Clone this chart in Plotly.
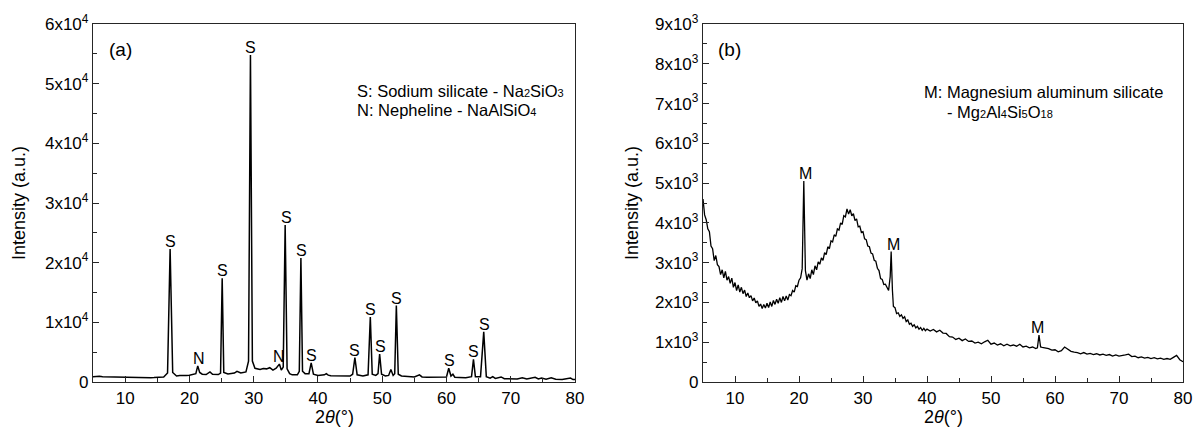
import plotly.graph_objects as go

# ---------------- (a) pattern: (2theta, intensity) ----------------
pattern_a = [
    (5.0, 900), (5.5, 980), (6.0, 950), (6.5, 900), (7.0, 880), (7.5, 940), (8.0, 920),
    (8.5, 870), (9.0, 860), (9.5, 840), (10.0, 820), (10.5, 830), (11.0, 800), (11.5, 780),
    (12.0, 760), (12.5, 770), (13.0, 740), (13.5, 720), (14.0, 720), (14.5, 740), (15.0, 760),
    (15.5, 800), (16.0, 850), (16.6, 1500), (17.0, 22300), (17.4, 1600), (18.0, 1000),
    (18.5, 1080), (19.0, 1050), (19.5, 1100), (20.0, 1150), (20.5, 1250), (21.0, 1400),
    (21.3, 2700), (21.6, 1600), (22.0, 1300), (22.6, 1250), (23.2, 1700), (23.6, 1300),
    (24.5, 1250), (24.85, 1500), (25.1, 17400), (25.35, 1600), (26.0, 1350), (27.0, 1500),
    (27.4, 1800), (28.0, 1500), (28.8, 1700), (29.2, 3500), (29.5, 54800), (29.8, 3500),
    (30.2, 2300), (31.0, 2100), (31.5, 2250), (32.0, 2200), (32.5, 2400), (33.0, 2000),
    (33.5, 2300), (34.0, 3000), (34.3, 2000), (34.6, 2500), (34.9, 26300), (35.2, 2200),
    (35.6, 1400), (36.0, 1200), (36.8, 1200), (37.1, 1800), (37.35, 20800), (37.6, 1800),
    (38.0, 1400), (38.6, 1400), (38.95, 3200), (39.3, 1300), (40.0, 1100), (41.0, 1200),
    (41.3, 1400), (41.6, 1150), (42.0, 1050), (43.0, 1050), (44.0, 1000), (45.0, 1000),
    (45.4, 1300), (45.75, 4100), (46.1, 1200), (47.0, 1000), (47.8, 1200), (48.15, 10900),
    (48.45, 1300), (49.0, 1100), (49.35, 1400), (49.6, 4700), (49.9, 1300), (50.5, 1000),
    (51.0, 1100), (51.35, 2100), (51.7, 1100), (51.95, 1400), (52.2, 12800), (52.5, 1300),
    (53.0, 1000), (54.0, 900), (55.0, 850), (55.8, 1200), (56.2, 850), (57.0, 800),
    (58.0, 800), (59.0, 750), (60.0, 850), (60.35, 2300), (60.7, 1000), (61.0, 1300),
    (61.3, 800), (62.0, 750), (63.0, 700), (63.9, 900), (64.2, 3800), (64.5, 900),
    (65.3, 900), (65.8, 8400), (66.2, 900), (66.8, 650), (67.2, 900), (67.6, 600),
    (68.5, 850), (69.0, 550), (70.0, 550), (71.0, 500), (71.8, 700), (72.5, 500),
    (73.8, 800), (74.3, 500), (74.8, 650), (75.5, 450), (76.3, 700), (77.0, 450),
    (78.0, 420), (79.3, 650), (79.7, 400), (80.0, 400),
]

# phase markers for (a): (2theta, peak intensity, letter)
markers_a = [
    (17.0, 22300, "S"), (21.5, 2700, "N"), (25.1, 17400, "S"), (29.5, 54800, "S"),
    (34.0, 3000, "N"), (35.05, 26300, "S"), (37.5, 20800, "S"), (38.95, 3200, "S"),
    (45.75, 4100, "S"), (48.15, 10900, "S"), (49.8, 4700, "S"), (52.2, 12800, "S"),
    (60.5, 2300, "S"), (64.2, 3800, "S"), (65.9, 8400, "S"),
]

# ---------------- (b) pattern: (2theta, intensity) ----------------
pattern_b = [
    (5.00, 4600), (5.25, 4200), (5.50, 4080), (5.75, 3850), (6.00, 3780), (6.25, 3420),
    (6.50, 3350), (6.75, 3050), (7.00, 3180), (7.25, 2950), (7.50, 2900), (7.75, 2700),
    (8.00, 2820), (8.25, 2620), (8.50, 2780), (8.75, 2560), (9.00, 2650), (9.25, 2480),
    (9.50, 2610), (9.75, 2380), (10.00, 2500), (10.25, 2300), (10.50, 2440), (10.75, 2260),
    (11.00, 2380), (11.25, 2220), (11.50, 2310), (11.75, 2150), (12.00, 2240), (12.25, 2120),
    (12.50, 2170), (12.75, 2040), (13.00, 2110), (13.25, 1990), (13.50, 2040), (13.75, 1900),
    (14.00, 1960), (14.25, 1850), (14.50, 1950), (14.75, 1860), (15.00, 1980), (15.25, 1870),
    (15.50, 2010), (15.75, 1900), (16.00, 2050), (16.25, 1950), (16.50, 2080), (16.75, 1980),
    (17.00, 2120), (17.25, 2000), (17.50, 2150), (17.75, 2040), (18.00, 2160), (18.25, 2060),
    (18.50, 2200), (18.75, 2170), (19.00, 2300), (19.25, 2260), (19.50, 2420), (19.75, 2400),
    (20.00, 2560), (20.25, 2620), (20.50, 2850), (20.75, 5050), (21.00, 2800), (21.25, 2560),
    (21.50, 2720), (21.75, 2600), (22.00, 2820), (22.25, 2700), (22.50, 2920), (22.75, 2820),
    (23.00, 3020), (23.25, 2960), (23.50, 3120), (23.75, 3060), (24.00, 3250), (24.25, 3200),
    (24.50, 3400), (24.75, 3350), (25.00, 3550), (25.25, 3520), (25.50, 3700), (25.75, 3660),
    (26.00, 3850), (26.25, 3820), (26.50, 4000), (26.75, 3960), (27.00, 4180), (27.25, 4150),
    (27.50, 4350), (27.75, 4220), (28.00, 4330), (28.25, 4180), (28.50, 4230), (28.75, 4060),
    (29.00, 4100), (29.25, 3900), (29.50, 3920), (29.75, 3760), (30.00, 3780), (30.25, 3600),
    (30.50, 3580), (30.75, 3420), (31.00, 3400), (31.25, 3240), (31.50, 3220), (31.75, 3060),
    (32.00, 3040), (32.25, 2860), (32.50, 2800), (32.75, 2600), (33.00, 2580), (33.25, 2450),
    (33.50, 2460), (33.75, 2360), (34.00, 2300), (34.25, 2650), (34.40, 3280), (34.60, 2300),
    (34.75, 1900), (35.00, 1870), (35.25, 1720), (35.50, 1740), (35.75, 1650), (36.00, 1690),
    (36.25, 1600), (36.50, 1640), (36.75, 1520), (37.00, 1560), (37.25, 1450), (37.50, 1480),
    (37.75, 1400), (38.00, 1440), (38.25, 1360), (38.50, 1400), (38.75, 1330), (39.00, 1370),
    (39.25, 1300), (39.50, 1350), (39.75, 1290), (40.0, 1330), (40.5, 1280), (41.0, 1320),
    (41.5, 1260), (42.0, 1300), (42.5, 1230), (43.0, 1220), (43.5, 1140), (44.0, 1130),
    (44.5, 1070), (45.0, 1100), (45.5, 1040), (46.0, 1080), (46.5, 1020), (47.0, 1030),
    (47.5, 980), (48.0, 1000), (48.5, 960), (49.0, 1010), (49.5, 1050), (50.0, 950),
    (50.5, 980), (51.0, 930), (51.5, 960), (52.0, 910), (52.5, 950), (53.0, 910),
    (53.5, 930), (54.0, 900), (54.5, 950), (55.0, 880), (55.5, 900), (56.0, 860),
    (56.5, 880), (57.0, 840), (57.25, 860), (57.5, 1180), (57.75, 880), (58.0, 870),
    (58.5, 850), (59.0, 840), (59.5, 800), (60.0, 810), (60.5, 760), (61.0, 790),
    (61.5, 880), (62.0, 830), (62.5, 770), (63.0, 750), (63.5, 740), (64.0, 710),
    (64.5, 740), (65.0, 700), (65.5, 720), (66.0, 690), (66.5, 710), (67.0, 680),
    (67.5, 700), (68.0, 670), (68.5, 690), (69.0, 650), (69.5, 680), (70.0, 650),
    (70.5, 660), (71.0, 680), (71.5, 700), (72.0, 640), (72.5, 650), (73.0, 610),
    (73.5, 630), (74.0, 600), (74.5, 620), (75.0, 590), (75.5, 610), (76.0, 580),
    (76.5, 600), (77.0, 570), (77.5, 590), (78.0, 570), (78.5, 620), (79.0, 670),
    (79.5, 560), (80.0, 510),
]

markers_b = [(21.0, 5050, "M"), (34.7, 3280, "M"), (57.3, 1180, "M")]

# axis ticks
x_ticks = [10, 20, 30, 40, 50, 60, 70, 80]
y_ticks_a = [0, 10000, 20000, 30000, 40000, 50000, 60000]
y_text_a = ["0"] + [f"{k}x10<sup>4</sup>" for k in range(1, 7)]
y_ticks_b = [0, 1000, 2000, 3000, 4000, 5000, 6000, 7000, 8000, 9000]
y_text_b = ["0"] + [f"{k}x10<sup>3</sup>" for k in range(1, 10)]

FONT = "Arial, Liberation Sans, sans-serif"
AX = "#262626"
W, H = 1194, 428

fig = go.Figure()
fig.add_trace(go.Scatter(x=[p[0] for p in pattern_a], y=[p[1] for p in pattern_a],
                         mode="lines", line=dict(color="black", width=1.5),
                         xaxis="x", yaxis="y", showlegend=False))
fig.add_trace(go.Scatter(x=[p[0] for p in pattern_b], y=[p[1] for p in pattern_b],
                         mode="lines", line=dict(color="black", width=1.3),
                         xaxis="x2", yaxis="y2", showlegend=False))


def axis(domain, rng, tickvals, ticktext, minor_dtick, anchor):
    return dict(domain=domain, range=rng, tickvals=tickvals, ticktext=ticktext,
                ticks="inside", ticklen=6, tickwidth=1.2, tickcolor=AX,
                minor=dict(ticks="inside", ticklen=3.5, tickwidth=1.2, tickcolor=AX,
                           dtick=minor_dtick, tick0=0, showgrid=False),
                showline=True, linecolor=AX, linewidth=1.3, mirror=True,
                showgrid=False, zeroline=False, anchor=anchor, automargin=False,
                tickfont=dict(family=FONT, size=17, color="black"))


fig.update_layout(
    width=W, height=H, margin=dict(l=0, r=0, t=0, b=0),
    paper_bgcolor="white", plot_bgcolor="white",
    font=dict(family=FONT, color="black"),
    xaxis=axis([93 / W, 575 / W], [5, 80], x_ticks, [str(v) for v in x_ticks], 5, "y"),
    yaxis=axis([1 - 382 / H, 1 - 24 / H], [0, 60000], y_ticks_a, y_text_a, 5000, "x"),
    xaxis2=axis([703 / W, 1183 / W], [5, 80], x_ticks, [str(v) for v in x_ticks], 5, "y2"),
    yaxis2=axis([1 - 382 / H, 1 - 24 / H], [0, 9000], y_ticks_b, y_text_b, 500, "x2"),
)


def sub(s):
    # small digits kept near the baseline, as in the phase formulas
    return f'<span style="font-size:11px">{s}</span>'


ann = []
for x, y, t in markers_a:
    ann.append(dict(x=x, y=y, xref="x", yref="y", text=t, showarrow=False,
                    yanchor="bottom", yshift=-3, font=dict(size=16, color="black")))
for x, y, t in markers_b:
    ann.append(dict(x=x, y=y, xref="x2", yref="y2", text=t, showarrow=False,
                    yanchor="bottom", yshift=-3, font=dict(size=16, color="black")))


def paper_text(px, py, text, size, xanchor="left", angle=0):
    return dict(x=px / W, y=1 - py / H, xref="paper", yref="paper", text=text,
                showarrow=False, xanchor=xanchor, yanchor="middle", textangle=angle,
                font=dict(size=size, color="black"))


ann += [
    paper_text(120, 49, "(a)", 19, "center"),
    paper_text(730, 49, "(b)", 19, "center"),
    paper_text(355, 90.5, f"S: Sodium silicate - Na{sub(2)}SiO{sub(3)}", 16.5),
    paper_text(355, 109.5, f"N: Nepheline - NaAlSiO{sub(4)}", 16.5),
    paper_text(922, 92.5, "M: Magnesium aluminum silicate", 16.5),
    paper_text(945, 111.5, f"- Mg{sub(2)}Al{sub(4)}Si{sub(5)}O{sub(18)}", 16.5),
    paper_text(19, 203, "Intensity (a.u.)", 18, "center", -90),
    paper_text(632, 203, "Intensity (a.u.)", 18, "center", -90),
    paper_text(334, 417, "2<i>θ</i>(°)", 18, "center"),
    paper_text(943, 417, "2<i>θ</i>(°)", 18, "center"),
]
fig.update_layout(annotations=ann)

fig.write_html("out.html")
